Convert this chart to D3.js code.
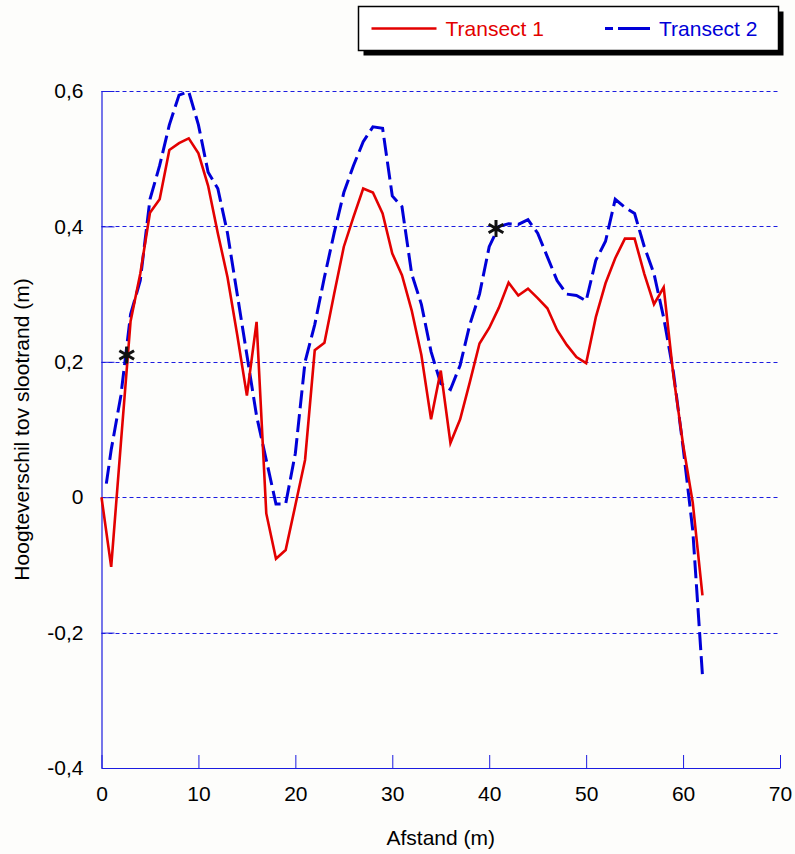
<!DOCTYPE html>
<html lang="nl">
<head>
    <meta charset="UTF-8">
    <title>Hoogteverschil tov slootrand</title>
    <script src="https://d3js.org/d3.v7.min.js"></script>
    <style>
        body { margin: 0; background: #fdfdfb; }
        svg { display: block; font-family: Arial, "Liberation Sans", sans-serif; }
        .axis path, .axis line { stroke: #1c1ce0; }
        .axis text { font-size: 21px; fill: #000; }
        .grid line { stroke: #1c1ce0; stroke-dasharray: 4,3; }
    </style>
</head>
<body>
    <svg width="795" height="854"></svg>
    <script>
        // afstand (m) en hoogteverschil (m) per transect
        const dist1 = [0, 1, 2, 3, 4, 5, 6, 7, 8, 9, 10, 11, 12, 13, 14, 15, 16, 17, 18, 19, 20,
            21, 22, 23, 24, 25, 26, 27, 28, 29, 30, 31, 32, 33, 34, 35, 36, 37, 38, 39, 40,
            41, 42, 43, 44, 45, 46, 47, 48, 49, 50, 51, 52, 53, 54, 55, 56, 57, 58, 59, 60, 61, 62];
        const transect1 = [0, -0.103, 0.08, 0.26, 0.33, 0.42, 0.44, 0.513, 0.523, 0.53, 0.508,
            0.46, 0.39, 0.325, 0.24, 0.15, 0.259, -0.024, -0.091, -0.078, -0.012,
            0.055, 0.217, 0.228, 0.3, 0.37, 0.414, 0.456, 0.45, 0.419, 0.36,
            0.328, 0.276, 0.21, 0.115, 0.187, 0.08, 0.115, 0.17, 0.227, 0.25,
            0.28, 0.317, 0.298, 0.308, 0.294, 0.279, 0.247, 0.225, 0.207, 0.198,
            0.266, 0.316, 0.353, 0.382, 0.382, 0.33, 0.285, 0.31, 0.18, 0.078, -0.008, -0.145];

        const dist2 = [0.5, 1, 2, 3, 4, 5, 6, 7, 8, 9, 10, 11, 12, 13, 14, 15, 16, 17, 18, 19, 20,
            21, 22, 23, 24, 25, 26, 27, 28, 29, 30, 31, 32, 33, 34, 35, 36, 37, 38, 39, 40,
            41, 42, 43, 44, 45, 46, 47, 48, 49, 50, 51, 52, 53, 54, 55, 56, 57, 58, 59, 60, 61, 62];
        const transect2 = [0.02, 0.07, 0.15, 0.27, 0.32, 0.44, 0.49, 0.55, 0.594, 0.599, 0.55,
            0.48, 0.456, 0.39, 0.3, 0.21, 0.12, 0.055, -0.01, -0.01, 0.065,
            0.2, 0.255, 0.325, 0.39, 0.45, 0.49, 0.525, 0.547, 0.545, 0.445,
            0.429, 0.33, 0.285, 0.215, 0.168, 0.159, 0.195, 0.255, 0.3, 0.37,
            0.4, 0.404, 0.403, 0.41, 0.39, 0.355, 0.32, 0.3, 0.298, 0.29,
            0.35, 0.378, 0.44, 0.428, 0.419, 0.37, 0.33, 0.265, 0.185, 0.074, -0.049, -0.263];

        // sterretjes in de grafiek
        const starX = [2.6, 40.7];
        const starY = [0.21, 0.397];

        const xTicks = [0, 10, 20, 30, 40, 50, 60, 70];
        const yTicks = [-0.4, -0.2, 0, 0.2, 0.4, 0.6];
        const seriesNames = ["Transect 1", "Transect 2"];

        const svg = d3.select("svg");
        const margin = { top: 91, right: 15, bottom: 86, left: 101.5 };
        const width = +svg.attr("width") - margin.left - margin.right,
              height = +svg.attr("height") - margin.top - margin.bottom;

        const x = d3.scaleLinear().domain([0, 70]).range([0, width]);
        const y = d3.scaleLinear().domain([-0.4, 0.6]).range([height, 0]);

        const g = svg.append("g").attr("transform", `translate(${margin.left},${margin.top})`);

        // stippellijnen
        g.append("g")
            .attr("class", "grid")
            .selectAll("line")
            .data(yTicks.filter(d => d > -0.4))
            .enter().append("line")
            .attr("x1", 0)
            .attr("x2", width)
            .attr("y1", d => Math.round(y(d)) + 0.5)
            .attr("y2", d => Math.round(y(d)) + 0.5);

        const fmt = d => d === 0 ? "0" : d.toFixed(1).replace(".", ",");

        g.append("g")
            .attr("class", "axis")
            .attr("transform", `translate(0,${height})`)
            .call(d3.axisBottom(x).tickValues(xTicks).tickSizeInner(-13).tickSizeOuter(0).tickPadding(26))
            .call(a => a.selectAll("text").attr("dy", "0.35em"));

        g.append("g")
            .attr("class", "axis")
            .call(d3.axisLeft(y).tickValues(yTicks).tickFormat(fmt).tickSizeInner(-13).tickSizeOuter(0).tickPadding(18));

        g.selectAll(".axis .domain").attr("stroke-width", 1.2);

        const line1 = d3.line().x((d, i) => x(dist1[i])).y(d => y(d));
        const line2 = d3.line().x((d, i) => x(dist2[i])).y(d => y(d));

        g.append("path")
            .datum(transect2)
            .attr("fill", "none")
            .attr("stroke", "#0000d8")
            .attr("stroke-width", 3)
            .attr("stroke-dasharray", "18,6")
            .attr("d", line2);

        g.append("path")
            .datum(transect1)
            .attr("fill", "none")
            .attr("stroke", "#e30000")
            .attr("stroke-width", 2.6)
            .attr("d", line1);

        // asterisk: drie lijnen door het midden
        const r = 8.5;
        const star = [90, 30, 150].map(a => {
            const t = a * Math.PI / 180;
            return `M${-r * Math.cos(t)},${r * Math.sin(t)}L${r * Math.cos(t)},${-r * Math.sin(t)}`;
        }).join("");
        g.append("g")
            .selectAll("path")
            .data(starX)
            .enter().append("path")
            .attr("transform", (d, i) => `translate(${x(d)},${y(starY[i])})`)
            .attr("d", star)
            .attr("stroke", "#111")
            .attr("stroke-width", 3)
            .attr("stroke-linecap", "butt");

        // as titels
        svg.append("text")
            .attr("x", margin.left + x(35))
            .attr("y", 845)
            .attr("text-anchor", "middle")
            .attr("font-size", "21px")
            .text("Afstand (m)");

        svg.append("text")
            .attr("transform", `translate(29,${margin.top + y(0.1)}) rotate(-90)`)
            .attr("text-anchor", "middle")
            .attr("font-size", "21px")
            .text("Hoogteverschil tov slootrand (m)");

        // legenda
        const legend = svg.append("g").attr("transform", "translate(358.5,6.5)");
        legend.append("rect")
            .attr("x", 5).attr("y", 5)
            .attr("width", 420).attr("height", 44)
            .attr("fill", "#000");
        legend.append("rect")
            .attr("width", 420).attr("height", 44)
            .attr("fill", "#fff")
            .attr("stroke", "#000")
            .attr("stroke-width", 1.5);

        const legColors = ["#e30000", "#0000d8"];
        const legX = [13, 246.5];
        const legLen = [65, 45];
        seriesNames.forEach((name, i) => {
            legend.append("line")
                .attr("x1", legX[i]).attr("x2", legX[i] + legLen[i])
                .attr("y1", 22).attr("y2", 22)
                .attr("stroke", legColors[i])
                .attr("stroke-width", i ? 3 : 2.6)
                .attr("stroke-dasharray", i ? "8,5,40" : null);
            legend.append("text")
                .attr("x", legX[i] + legLen[i] + 9)
                .attr("y", 22)
                .attr("dy", "0.35em")
                .attr("font-size", "21px")
                .attr("fill", legColors[i])
                .text(name);
        });
    </script>
</body>
</html>
